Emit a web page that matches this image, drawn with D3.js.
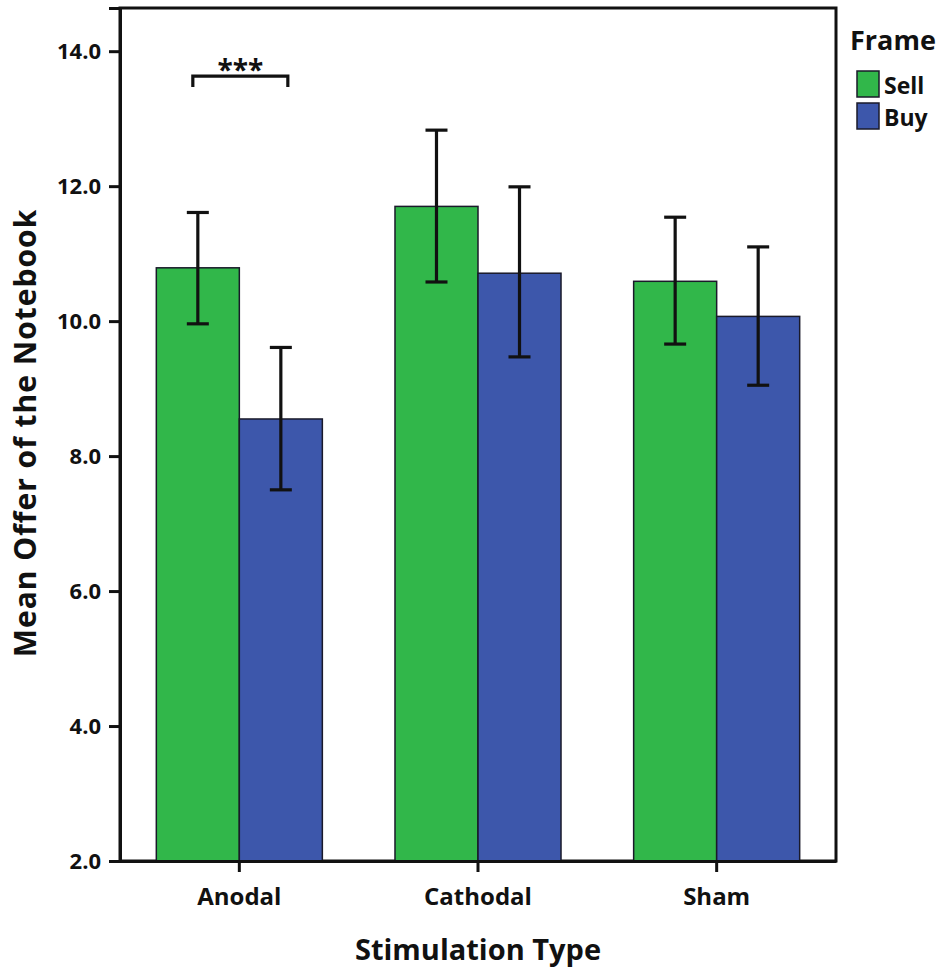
<!DOCTYPE html>
<html>
<head>
<meta charset="utf-8">
<script src="https://cdn.jsdelivr.net/npm/d3@7"></script>
<style>
  html, body { margin: 0; padding: 0; background: #fff; }
  svg text { font-family: "Open Sans", "DejaVu Sans", sans-serif; font-weight: 700; fill: #111; }
</style>
</head>
<body>
<svg id="chart" width="950" height="979"></svg>
<script>
// ---- data ----
const categories = ["Anodal", "Cathodal", "Sham"];
const seriesNames = ["Sell", "Buy"];
const sellMeans = [10.79, 11.70, 10.59];
const sellLow   = [9.96, 10.58, 9.66];
const sellHigh  = [11.61, 12.83, 11.54];
const buyMeans  = [8.55, 10.71, 10.07];
const buyLow    = [7.50, 9.47, 9.05];
const buyHigh   = [9.61, 11.99, 11.10];
const yTicks = [2, 4, 6, 8, 10, 12, 14];
const seriesColors = ["#31b74a", "#3d57ab"];

const rows = [];
categories.forEach((c, i) => {
  rows.push({cat: c, series: "Sell", mean: sellMeans[i], lo: sellLow[i], hi: sellHigh[i]});
  rows.push({cat: c, series: "Buy", mean: buyMeans[i], lo: buyLow[i], hi: buyHigh[i]});
});

const svg = d3.select("#chart");
const pL = 120, pR = 836, pT = 8, pB = 861;

const y = d3.scaleLinear().domain([2, 14.64]).range([pB, pT]);
const x0 = d3.scaleBand().domain(categories).range([pL, pR]).padding(0);
const x1 = d3.scaleBand().domain(seriesNames).range([0, x0.bandwidth()])
  .paddingInner(0).paddingOuter(0.4375);
const color = d3.scaleOrdinal().domain(seriesNames).range(seriesColors);

// plot frame
svg.append("rect")
  .attr("x", pL).attr("y", pT)
  .attr("width", pR - pL).attr("height", pB - pT)
  .attr("fill", "none").attr("stroke", "#111").attr("stroke-width", 3);

// bars
svg.append("g").selectAll("rect").data(rows).join("rect")
  .attr("x", d => x0(d.cat) + x1(d.series))
  .attr("y", d => y(d.mean))
  .attr("width", x1.bandwidth())
  .attr("height", d => y(2) - y(d.mean))
  .attr("fill", d => color(d.series))
  .attr("stroke", "#1a1a2a").attr("stroke-width", 1.5);

// error bars
const eb = svg.append("g").attr("stroke", "#111").attr("stroke-width", 3.2);
rows.forEach(d => {
  const cx = x0(d.cat) + x1(d.series) + x1.bandwidth() / 2;
  eb.append("line").attr("x1", cx).attr("x2", cx).attr("y1", y(d.lo)).attr("y2", y(d.hi));
  eb.append("line").attr("x1", cx - 11).attr("x2", cx + 11).attr("y1", y(d.hi)).attr("y2", y(d.hi));
  eb.append("line").attr("x1", cx - 11).attr("x2", cx + 11).attr("y1", y(d.lo)).attr("y2", y(d.lo));
});

// y axis
const yAxis = svg.append("g").attr("transform", `translate(${pL},0)`)
  .call(d3.axisLeft(y).tickValues(yTicks).tickFormat(d3.format(".1f")).tickSize(11).tickPadding(8));
yAxis.select(".domain").attr("stroke", "#111").attr("stroke-width", 3);
yAxis.selectAll(".tick line").attr("stroke", "#111").attr("stroke-width", 3);
yAxis.selectAll(".tick text").style("font-size", "22px").attr("fill", "#111");

// x axis
const xAxis = svg.append("g").attr("transform", `translate(0,${pB})`)
  .call(d3.axisBottom(x0).tickSize(11).tickPadding(16).tickSizeOuter(0));
xAxis.select(".domain").attr("stroke", "#111").attr("stroke-width", 3);
xAxis.selectAll(".tick line").attr("stroke", "#111").attr("stroke-width", 3);
xAxis.selectAll(".tick text").style("font-size", "24px").attr("fill", "#111");

// axis titles
svg.append("text")
  .attr("x", (pL + pR) / 2).attr("y", 960)
  .attr("text-anchor", "middle").style("font-size", "29px")
  .text("Stimulation Type");
svg.append("text")
  .attr("transform", `translate(36,433) rotate(-90)`)
  .attr("text-anchor", "middle").style("font-size", "30px").style("letter-spacing", "1px")
  .text("Mean Offer of the Notebook");

// significance bracket
const bx1 = x0("Anodal") + x1("Sell") + x1.bandwidth() / 2 - 5;
const bx2 = x0("Anodal") + x1("Buy") + x1.bandwidth() / 2 + 7;
svg.append("path")
  .attr("d", `M${bx1},${y(13.47)} V${y(13.63)} H${bx2} V${y(13.47)}`)
  .attr("fill", "none").attr("stroke", "#111").attr("stroke-width", 3.2);
svg.append("text")
  .attr("x", (bx1 + bx2) / 2).attr("y", y(13.63) + 4)
  .attr("text-anchor", "middle").style("font-size", "28px")
  .text("***");

// legend
const lg = svg.append("g");
lg.append("text").attr("x", 850).attr("y", 50).style("font-size", "27px").text("Frame");
seriesNames.forEach((s, i) => {
  lg.append("rect").attr("x", 857).attr("y", 71 + i * 32).attr("width", 22).attr("height", 26)
    .attr("fill", color(s)).attr("stroke", "#1a1a2a").attr("stroke-width", 1.5);
  lg.append("text").attr("x", 884).attr("y", 94 + i * 32).style("font-size", "23px").text(s);
});
</script>
</body>
</html>
